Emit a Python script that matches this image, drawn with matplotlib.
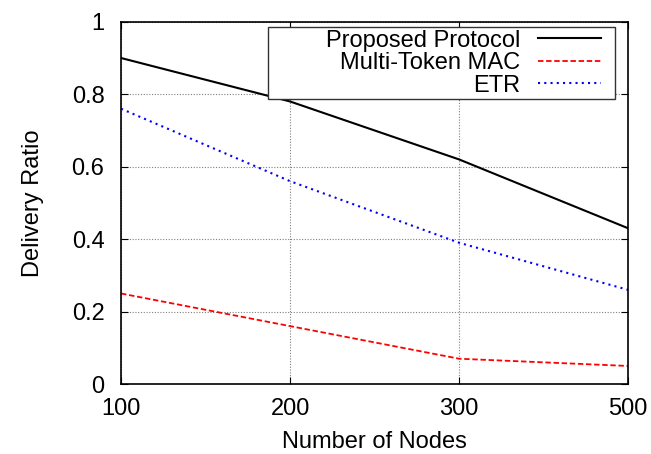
import matplotlib
matplotlib.use("Agg")
import matplotlib.pyplot as plt
from matplotlib.patches import Rectangle

plt.rcParams['font.family'] = ['Liberation Sans', 'DejaVu Sans']

# number of nodes (equally spaced categories on the x axis)
nodes = ["100", "200", "300", "500"]

# delivery ratio for each protocol
proposed = [0.90, 0.78, 0.62, 0.43]
multi_token = [0.25, 0.16, 0.07, 0.05]
etr = [0.76, 0.56, 0.39, 0.26]

yticks = [0, 0.2, 0.4, 0.6, 0.8, 1]
ytick_labels = ["0", "0.2", "0.4", "0.6", "0.8", "1"]

fig = plt.figure(figsize=(6.51, 4.54), dpi=100)
ax = fig.add_axes([0.186, 0.154, 0.779, 0.798])

x = list(range(len(nodes)))
ax.plot(x, proposed, color='black', lw=1.5, ls='-', label='Proposed Protocol')
ax.plot(x, multi_token, color='red', lw=1.3, ls=(0, (3, 1.5)), label='Multi-Token MAC')
ax.plot(x, etr, color='blue', lw=1.5, ls=(0, (1, 2)), label='ETR')

ax.set_xlim(0, len(nodes) - 1)
ax.set_ylim(0, 1)
ax.set_xticks(x)
ax.set_xticklabels(nodes)
ax.set_yticks(yticks)
ax.set_yticklabels(ytick_labels)

# gnuplot look: dotted grid, ticks inside on all sides
ax.grid(True, color='gray', ls=(0, (1, 1.5)), lw=0.8)
ax.tick_params(direction='in', top=True, right=True, labelsize=17, length=5)
ax.tick_params(axis='x', pad=10)
ax.tick_params(axis='y', pad=12)
for s in ax.spines.values():
    s.set_linewidth(1.2)

ax.set_xlabel("Number of Nodes", fontsize=17, labelpad=8)
ax.set_ylabel("Delivery Ratio", fontsize=17, labelpad=20)

leg = ax.legend(loc='upper right', bbox_to_anchor=(0.947, 0.978), markerfirst=False,
                fontsize=17, handlelength=2.7, frameon=False,
                borderaxespad=0, labelspacing=0.02, borderpad=0, handletextpad=0.75)
for t in leg.get_texts():
    t.set_ha('right')
leg._legend_box.align = "right"
leg.set_zorder(5)

# gnuplot style key box, wider than the text
box = Rectangle((0.29, 0.787), 0.684, 0.199, transform=ax.transAxes,
                facecolor='white', edgecolor='#333333', lw=1.0, zorder=4)
ax.add_patch(box)

fig.savefig("out.png", dpi=100)
